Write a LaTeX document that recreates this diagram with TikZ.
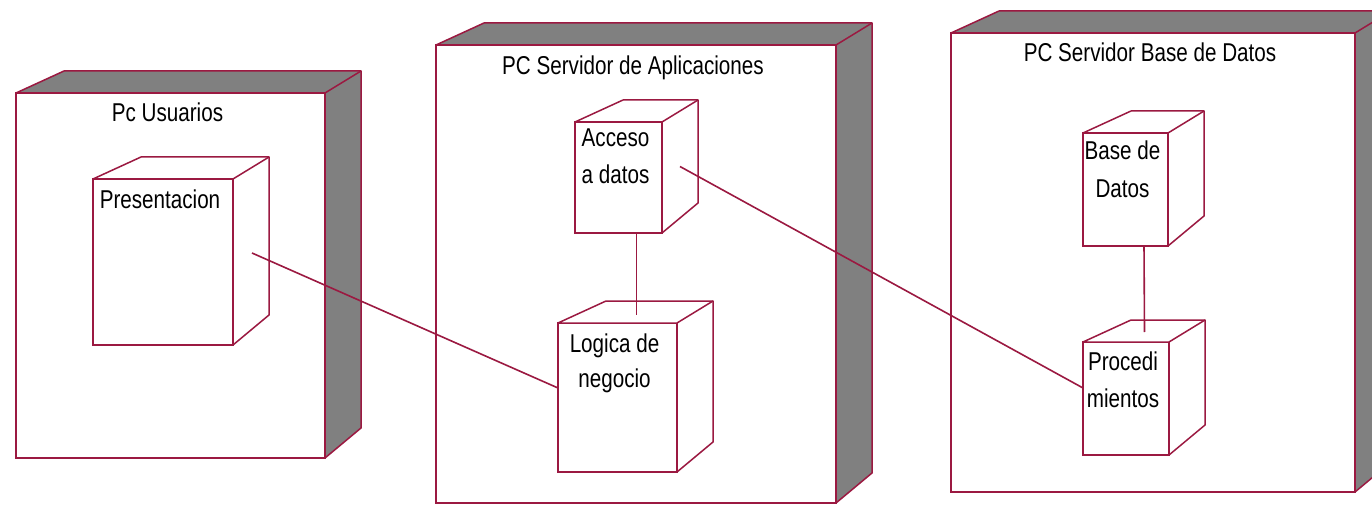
\documentclass[tikz,border=0pt]{standalone}
\usepackage{fontspec}
\setmainfont[FakeStretch=0.80]{Liberation Sans}
\usetikzlibrary{calc}
\definecolor{umlred}{RGB}{155,25,65}
\definecolor{sidegray}{RGB}{128,128,128}
\tikzset{
  conn/.style={draw=umlred, line width=1.6pt},
  front/.style={draw=umlred, fill=white, line width=1.5pt, rectangle, inner sep=0pt, outer sep=0pt, anchor=north west},
  lbl/.style={font=\fontsize{25.8}{30}\selectfont, text=black, inner sep=0pt, anchor=base},
}
\newcommand\deepbox[2]{%
  \draw[draw=umlred, line width=1.5pt, fill=#2, line join=round]
    (#1.north west) -- ++(48,-22) -- ($(#1.north east)+(36,-22)$)
    -- ($(#1.south east)+(36,-30)$) -- (#1.south east) -- (#1.north east) -- cycle;
  \draw[draw=umlred, line width=1.5pt] (#1.north east) -- ++(36,-22);
  \draw[draw=umlred, line width=2.8pt] (#1.north east) -- (#1.south east);
}
\begin{document}
\begin{tikzpicture}[x=1pt,y=-1pt]
\useasboundingbox (0,0) rectangle (1372,505);
\clip (0,0) rectangle (1372,505);
\fill[white] (0,0) rectangle (1372,505);

% big nodes
\node[front, minimum width=309pt, minimum height=365pt] (usr) at (16,93) {};
\deepbox{usr}{sidegray}
\node[front, minimum width=400pt, minimum height=458pt] (apl) at (436,45) {};
\deepbox{apl}{sidegray}
\node[front, minimum width=404pt, minimum height=459pt] (bd) at (951,33) {};
\deepbox{bd}{sidegray}

\node[lbl] (usrT) at ($(usr.north)+(-3,29)$) {Pc Usuarios};
\node[lbl] (aplT) at ($(apl.north)+(-3,30)$) {PC Servidor de Aplicaciones};
\node[lbl] (bdT) at ($(bd.north)+(-3,29)$) {PC Servidor Base de Datos};

% inner nodes
\node[front, minimum width=140pt, minimum height=166pt] (pres) at (93,179) {};
\deepbox{pres}{white}
\node[front, minimum width=87pt, minimum height=111pt] (acc) at (575,122) {};
\deepbox{acc}{white}
\node[front, minimum width=119pt, minimum height=149pt] (log) at (558,323) {};
\deepbox{log}{white}
\node[front, minimum width=85pt, minimum height=113pt] (base) at (1083,133) {};
\deepbox{base}{white}
\node[front, minimum width=86pt, minimum height=113pt] (proc) at (1083,342) {};
\deepbox{proc}{white}

\node[lbl] (presT) at ($(pres.north)+(-3,29)$) {Presentacion};
\node[lbl] (accT1) at ($(acc.north)+(-3,25)$) {Acceso};
\node[lbl] (accT2) at ($(acc.north)+(-3,61)$) {a datos};
\node[lbl] (logT1) at ($(log.north)+(-3,29)$) {Logica de};
\node[lbl] (logT2) at ($(log.north)+(-3,64)$) {negocio};
\node[lbl] (baseT1) at ($(base.north)+(-3,27)$) {Base de};
\node[lbl] (baseT2) at ($(base.north)+(-3,64)$) {Datos};
\node[lbl] (procT1) at ($(proc.north)+(-3,28)$) {Procedi};
\node[lbl] (procT2) at ($(proc.north)+(-3,65)$) {mientos};

% connectors
\coordinate (presEnd) at ($(pres.east)+(19,-9)$);
\coordinate (accEnd) at ($(acc.east)+(18,-11)$);
\draw[conn] (presEnd) -- ($(log.west)+(0,-9.5)$);
\draw[conn] (accEnd) -- ($(proc.west)+(0,-10.5)$);
\draw[conn] ($(acc.south)+(18,0)$) -- ($(log.north)+(19,-8)$);
\draw[conn] ($(base.south)+(18.5,0)$) -- ($(proc.north)+(18.5,-10)$);
\end{tikzpicture}
\end{document}
